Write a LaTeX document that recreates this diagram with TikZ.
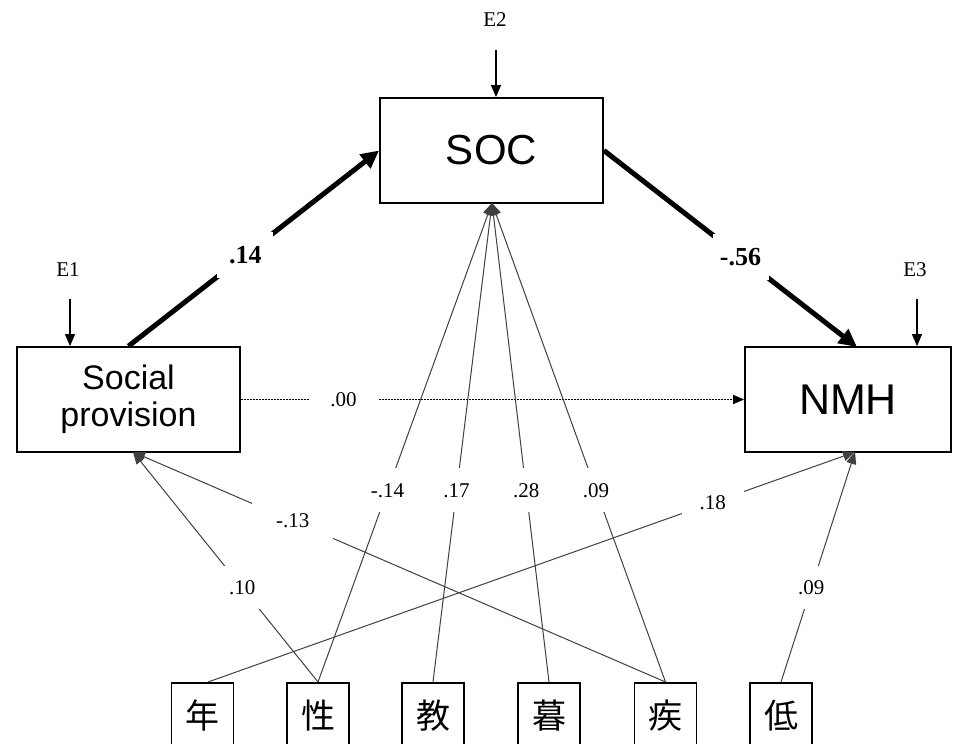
\documentclass[tikz,border=0pt]{standalone}
\usepackage{fontspec}
\setmainfont{Liberation Serif}
\newfontfamily\sansf{Liberation Sans}
\newfontfamily\cjk{Noto Sans CJK JP}
\usetikzlibrary{arrows.meta,calc}

\begin{document}
\begin{tikzpicture}[x=1pt,y=-1pt,
  varbox/.style={draw,line width=1.8pt,rectangle,inner sep=0pt,
    minimum width=223pt,minimum height=105pt,align=center},
  itembox/.style={draw,line width=1.6pt,rectangle,inner sep=0pt,anchor=north,
    minimum width=62pt,minimum height=66pt,font=\cjk\fontsize{34}{34}\selectfont},
  errlab/.style={inner sep=0pt,font=\fontsize{21}{21}\selectfont},
  lab/.style={fill=white,inner sep=0pt,font=\fontsize{21}{21}\selectfont},
  boldlab/.style={fill=white,inner sep=0pt,font=\bfseries\fontsize{26}{26}\selectfont},
  errarrow/.style={line width=1.1pt,-{Triangle[length=12pt,width=10pt]}},
  thinpath/.style={line width=1pt,draw=black!75,-{Triangle[length=12pt,width=10pt]}},
  mainpath/.style={line width=5pt,-{Triangle[length=18pt,width=17pt]}},
  dotpath/.style={line width=1.6pt,dash pattern=on 1.6pt off 1.4pt,
    -{Triangle[length=11pt,width=9pt]}},
]
\clip (0,0) rectangle (954,744);
\fill[white] (0,0) rectangle (954,744);

% main variables
\node[varbox,font=\sansf\fontsize{42}{42}\selectfont] (soc) at (491.5,150.5) {SOC};
\node[varbox,font=\sansf\fontsize{34}{37}\selectfont] (sp) at (128.5,399.5) {Social\\provision};
\node[varbox,minimum width=206pt,font=\sansf\fontsize{43}{43}\selectfont] (nmh) at (848,399.5) {NMH};

% control variables
\node[itembox] (b1) at (202.5,682) {年};
\node[itembox] (b2) at (318,682) {性};
\node[itembox] (b3) at (433,682) {教};
\node[itembox] (b4) at (549,682) {暮};
\node[itembox] (b5) at (665.5,682) {疾};
\node[itembox] (b6) at (781,682) {低};

% error terms
\node[errlab] (e1) at (68,270) {E1};
\node[errlab] (e2) at (495,20) {E2};
\node[errlab] (e3) at (915,270) {E3};
\coordinate (e1a) at (70,299);
\coordinate (e2a) at (496,50);
\coordinate (e3a) at (917,299);
\draw[errarrow] (e1a) -- (e1a |- sp.north);
\draw[errarrow] (e2a) -- (e2a |- soc.north);
\draw[errarrow] (e3a) -- (e3a |- nmh.north);

% arrow targets
\coordinate (socin) at (492,203);
\coordinate (spin) at (133,452);
\coordinate (nmhin) at (855,452);
\coordinate (nmhtop) at (857,347);

% main paths
\draw[mainpath] (sp.north) -- node[boldlab,pos=0.466,minimum width=56pt,minimum height=46pt] {.14} (soc.west);
\draw[mainpath] (soc.east) -- node[boldlab,pos=0.54,minimum width=56pt,minimum height=46pt] {-.56} (nmhtop);
\draw[dotpath] (sp.east) -- node[lab,pos=0.204,minimum width=70pt,minimum height=30pt] {.00} (nmh.west);

% paths from control variables
\draw[thinpath] (b2.north) -- node[lab,pos=0.4,minimum width=40pt,minimum height=44pt] {-.14} (socin);
\draw[thinpath] (b3.north) -- node[lab,pos=0.4,minimum width=40pt,minimum height=44pt] {.17} (socin);
\draw[thinpath] (b4.north) -- node[lab,pos=0.4,minimum width=40pt,minimum height=44pt] {.28} (socin);
\draw[thinpath] (b5.north) -- node[lab,pos=0.4,minimum width=40pt,minimum height=44pt] {.09} (socin);
\draw[thinpath] (b2.north) -- node[lab,pos=0.409,minimum width=40pt,minimum height=43pt] {.10} (spin);
\draw[thinpath] (b5.north) -- node[lab,pos=0.70,minimum width=81pt,minimum height=40pt] {-.13} (spin);
\draw[thinpath] ($(b1.north)+(5.5,0)$) -- node[lab,pos=0.78,minimum width=62pt,minimum height=36pt] {.18} (nmhin);
\draw[thinpath] (b6.north) -- node[lab,pos=0.41,minimum width=40pt,minimum height=43pt] {.09} (nmhin);
\end{tikzpicture}
\end{document}
